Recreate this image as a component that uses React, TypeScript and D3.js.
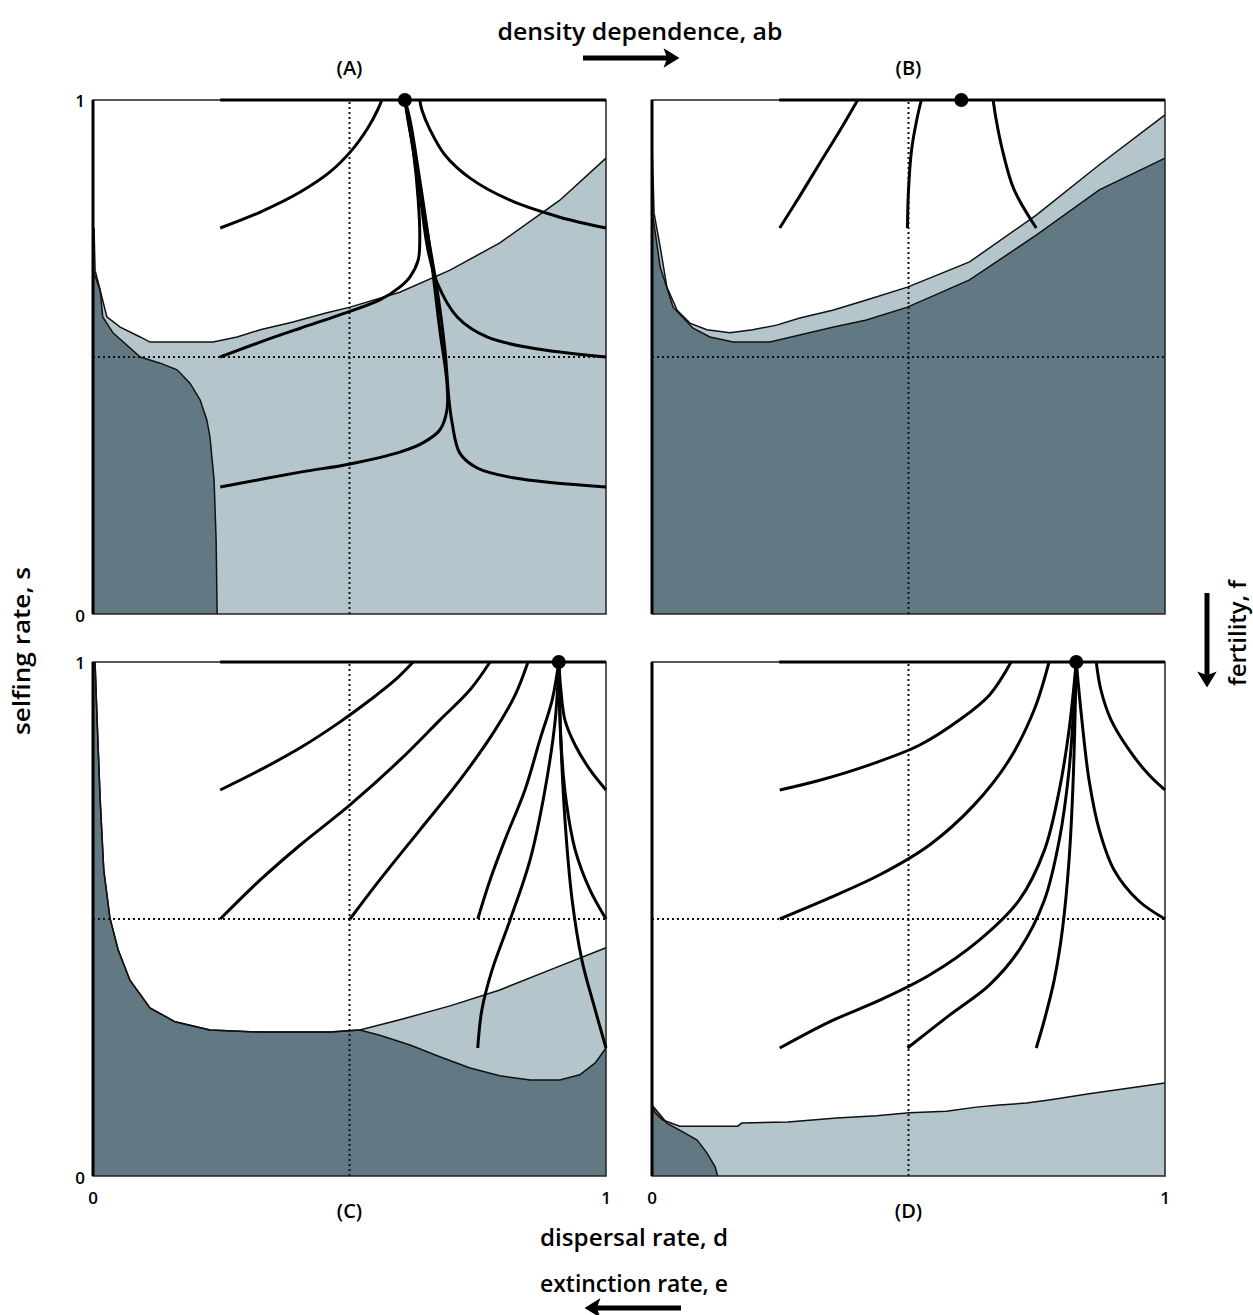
import * as d3 from "d3";

// panel geometry (px)
const PW = 513;
const PH = 514;

const DARK = "#627984";
const LIGHT = "#b4c6cb";

// region boundaries, [d, s]
const aWhite = [
  [0.002, 0.751], [0.004, 0.669], [0.014, 0.63], [0.027, 0.578], [0.053, 0.558],
  [0.092, 0.539], [0.111, 0.529], [0.234, 0.529], [0.281, 0.539], [0.326, 0.553],
  [0.39, 0.568], [0.456, 0.586], [0.501, 0.597], [0.598, 0.626], [0.696, 0.669],
  [0.793, 0.722], [0.91, 0.805], [1.0, 0.887],
];
const aDark = [
  [0, 0.669], [0.014, 0.63], [0.019, 0.578], [0.039, 0.547], [0.092, 0.5],
  [0.131, 0.488], [0.164, 0.475], [0.189, 0.449], [0.209, 0.416], [0.222, 0.377],
  [0.228, 0.344], [0.236, 0.261], [0.24, 0.144], [0.242, 0],
];

const bWhite = [
  [0, 0.918], [0.004, 0.78], [0.016, 0.714], [0.029, 0.636], [0.049, 0.591],
  [0.074, 0.566], [0.107, 0.553], [0.152, 0.547], [0.196, 0.553], [0.243, 0.562],
  [0.288, 0.576], [0.352, 0.591], [0.418, 0.611], [0.498, 0.636], [0.619, 0.685],
  [0.749, 0.776], [0.872, 0.874], [1.0, 0.971],
];
const bDark = [
  [0, 0.786], [0.016, 0.675], [0.041, 0.597], [0.08, 0.556], [0.113, 0.539],
  [0.158, 0.529], [0.23, 0.529], [0.288, 0.543], [0.352, 0.558], [0.418, 0.572],
  [0.498, 0.597], [0.619, 0.65], [0.749, 0.737], [0.872, 0.825], [1.0, 0.887],
];

const cWhite = [
  [0.004, 1.0], [0.008, 0.887], [0.014, 0.732], [0.021, 0.595], [0.033, 0.502],
  [0.049, 0.44], [0.072, 0.381], [0.111, 0.327], [0.16, 0.3], [0.228, 0.284],
  [0.326, 0.28], [0.462, 0.28], [0.52, 0.284], [0.598, 0.304], [0.696, 0.331],
  [0.793, 0.362], [0.891, 0.401], [1.0, 0.444],
];
const cDark = [
  [0.004, 1.0], [0.008, 0.887], [0.014, 0.732], [0.021, 0.595], [0.033, 0.502],
  [0.049, 0.44], [0.072, 0.381], [0.111, 0.327], [0.16, 0.3], [0.228, 0.284],
  [0.326, 0.28], [0.462, 0.28], [0.52, 0.284], [0.559, 0.274], [0.618, 0.255],
  [0.676, 0.232], [0.735, 0.21], [0.793, 0.195], [0.852, 0.187], [0.91, 0.187],
  [0.949, 0.197], [0.979, 0.22], [1.0, 0.249],
];

const dWhite = [
  [0, 0.138], [0.006, 0.123], [0.021, 0.109], [0.054, 0.097], [0.167, 0.097],
  [0.175, 0.103], [0.265, 0.105], [0.36, 0.113], [0.438, 0.117], [0.502, 0.123],
  [0.574, 0.126], [0.632, 0.134], [0.677, 0.138], [0.73, 0.142], [0.774, 0.148],
  [0.852, 0.16], [1.0, 0.181],
];
const dDark = [
  [0, 0.138], [0.029, 0.103], [0.06, 0.086], [0.088, 0.07], [0.107, 0.045],
  [0.123, 0.018], [0.128, 0],
];

// trajectories, [d, s]
const aTraj = [
  [[0.248, 0.751], [0.326, 0.782], [0.404, 0.821], [0.462, 0.86], [0.505, 0.903], [0.536, 0.946], [0.555, 0.981], [0.563, 1.0]],
  [[0.248, 0.5], [0.326, 0.529], [0.404, 0.556], [0.481, 0.582], [0.559, 0.611], [0.598, 0.636], [0.618, 0.656], [0.634, 0.689], [0.637, 0.728], [0.634, 0.805], [0.624, 0.903], [0.614, 0.961], [0.608, 1.0]],
  [[0.248, 0.247], [0.404, 0.276], [0.501, 0.292], [0.598, 0.315], [0.643, 0.333], [0.676, 0.358], [0.69, 0.397], [0.69, 0.449], [0.676, 0.553], [0.657, 0.708], [0.634, 0.864], [0.618, 0.961], [0.608, 1.0]],
  [[1.0, 0.751], [0.91, 0.772], [0.813, 0.805], [0.735, 0.848], [0.686, 0.893], [0.657, 0.942], [0.641, 0.981], [0.637, 1.0]],
  [[1.0, 0.5], [0.852, 0.518], [0.768, 0.539], [0.71, 0.578], [0.671, 0.644], [0.653, 0.708], [0.634, 0.844], [0.618, 0.942], [0.608, 1.0]],
  [[1.0, 0.247], [0.819, 0.265], [0.749, 0.284], [0.715, 0.313], [0.7, 0.372], [0.694, 0.416], [0.686, 0.514], [0.671, 0.63], [0.651, 0.747], [0.628, 0.883], [0.612, 0.981], [0.608, 1.0]],
];
const bTraj = [
  [[0.249, 0.751], [0.288, 0.813], [0.327, 0.877], [0.366, 0.94], [0.401, 1.0]],
  [[0.498, 0.751], [0.5, 0.825], [0.506, 0.903], [0.516, 0.961], [0.525, 1.0]],
  [[0.749, 0.751], [0.706, 0.825], [0.683, 0.903], [0.671, 0.961], [0.665, 1.0]],
];
const cTraj = [
  [[0.248, 0.751], [0.326, 0.79], [0.404, 0.833], [0.481, 0.883], [0.54, 0.926], [0.589, 0.965], [0.624, 1.0]],
  [[0.248, 0.5], [0.326, 0.576], [0.404, 0.644], [0.501, 0.722], [0.598, 0.809], [0.676, 0.887], [0.735, 0.946], [0.774, 1.0]],
  [[0.501, 0.5], [0.559, 0.576], [0.637, 0.673], [0.715, 0.77], [0.784, 0.868], [0.823, 0.936], [0.848, 1.0]],
  [[0.75, 0.5], [0.774, 0.576], [0.803, 0.654], [0.842, 0.751], [0.871, 0.848], [0.895, 0.926], [0.908, 1.0]],
  [[1.0, 0.751], [0.969, 0.79], [0.94, 0.838], [0.92, 0.887], [0.912, 0.946], [0.908, 1.0]],
  [[1.0, 0.5], [0.969, 0.556], [0.94, 0.634], [0.922, 0.732], [0.912, 0.848], [0.908, 1.0]],
  [[0.75, 0.249], [0.758, 0.323], [0.778, 0.401], [0.813, 0.498], [0.852, 0.615], [0.881, 0.751], [0.901, 0.887], [0.908, 1.0]],
  [[1.0, 0.249], [0.979, 0.323], [0.953, 0.42], [0.934, 0.537], [0.92, 0.693], [0.912, 0.848], [0.908, 1.0]],
];
const dTraj = [
  [[0.249, 0.751], [0.327, 0.77], [0.424, 0.8], [0.521, 0.838], [0.599, 0.887], [0.658, 0.936], [0.7, 1.0]],
  [[0.249, 0.5], [0.346, 0.541], [0.444, 0.586], [0.541, 0.644], [0.628, 0.722], [0.696, 0.809], [0.745, 0.907], [0.774, 1.0]],
  [[0.249, 0.249], [0.346, 0.3], [0.444, 0.342], [0.541, 0.391], [0.638, 0.459], [0.716, 0.537], [0.765, 0.634], [0.794, 0.751], [0.813, 0.868], [0.827, 1.0]],
  [[0.498, 0.249], [0.58, 0.313], [0.658, 0.372], [0.716, 0.44], [0.765, 0.537], [0.794, 0.654], [0.813, 0.79], [0.827, 1.0]],
  [[0.749, 0.249], [0.765, 0.304], [0.784, 0.381], [0.8, 0.479], [0.813, 0.615], [0.821, 0.77], [0.827, 1.0]],
  [[1.0, 0.751], [0.969, 0.78], [0.93, 0.829], [0.895, 0.887], [0.875, 0.946], [0.866, 1.0]],
  [[1.0, 0.5], [0.949, 0.535], [0.901, 0.595], [0.872, 0.673], [0.852, 0.77], [0.838, 0.887], [0.827, 1.0]],
];

const panels = [
  { id: "(A)", x: 93, y: 100, white: aWhite, dark: aDark, darkPoly: [[0, 0], ...aDark], traj: aTraj, dot: 0.608 },
  { id: "(B)", x: 652, y: 100, white: bWhite, dark: bDark, darkPoly: [[0, 0], ...bDark, [1, 0]], traj: bTraj, dot: 0.603 },
  { id: "(C)", x: 93, y: 662, white: cWhite, dark: cDark, darkPoly: [[0, 0], [0, 1], ...cDark, [1, 0]], traj: cTraj, dot: 0.908 },
  { id: "(D)", x: 652, y: 662, white: dWhite, dark: dDark, darkPoly: [[0, 0], ...dDark], traj: dTraj, dot: 0.827 },
];

const FONT = "'Open Sans', sans-serif";

function Panel({ p }) {
  const x = d3.scaleLinear().domain([0, 1]).range([p.x, p.x + PW]);
  const y = d3.scaleLinear().domain([0, 1]).range([p.y + PH, p.y]);
  const lin = d3.line().x((d) => x(d[0])).y((d) => y(d[1]));
  const smooth = d3.line().x((d) => x(d[0])).y((d) => y(d[1])).curve(d3.curveCatmullRom);
  const lightPoly = [[0, 0], [0, p.white[0][1]], ...p.white, [1, 0]];
  const bottom = p.y > 500;
  return (
    <g>
      <path d={lin(lightPoly) + "Z"} fill={LIGHT} />
      <path d={lin(p.darkPoly) + "Z"} fill={DARK} />
      <path d={lin(p.white)} fill="none" stroke="#111" strokeWidth={1.5} />
      <path d={lin(p.dark)} fill="none" stroke="#111" strokeWidth={1.5} />
      <line x1={x(0.5)} x2={x(0.5)} y1={y(0)} y2={y(1)} stroke="#111" strokeWidth={2} strokeDasharray="2,3" />
      <line x1={x(0)} x2={x(1)} y1={y(0.5)} y2={y(0.5)} stroke="#111" strokeWidth={2} strokeDasharray="2,3" />
      <rect x={x(0)} y={y(1)} width={PW} height={PH} fill="none" stroke="#222" strokeWidth={1.5} />
      <line x1={x(0)} x2={x(0)} y1={y(0)} y2={y(1)} stroke="#000" strokeWidth={3} />
      <line x1={x(0.248)} x2={x(1)} y1={y(1)} y2={y(1)} stroke="#000" strokeWidth={3} />
      {p.traj.map((t, i) => (
        <path key={i} d={smooth(t)} fill="none" stroke="#000" strokeWidth={3} />
      ))}
      <circle cx={x(p.dot)} cy={y(1)} r={7} fill="#000" />
      <text x={x(0.5)} y={bottom ? 1218 : 75} textAnchor="middle" fontSize={20} fontWeight={600} fontFamily={FONT}>
        {p.id}
      </text>
      {p.x < 300 && (
        <g fontSize={17} fontWeight={600} fontFamily={FONT} textAnchor="end">
          <text x={p.x - 8} y={y(1) + 7}>1</text>
          <text x={p.x - 8} y={y(0) + 8}>0</text>
        </g>
      )}
      {bottom && (
        <g fontSize={17} fontWeight={600} fontFamily={FONT} textAnchor="middle">
          <text x={x(0)} y={1204}>0</text>
          <text x={x(1)} y={1204}>1</text>
        </g>
      )}
    </g>
  );
}

export default function App() {
  return (
    <svg width={1253} height={1315} style={{ position: "absolute", left: 0, top: 0, background: "#fff" }}>
      {panels.map((p) => (
        <Panel key={p.id} p={p} />
      ))}
      <g fontFamily={FONT} fontWeight={600} fontSize={24} fill="#000">
        <text x={640} y={40} textAnchor="middle" textLength={285} lengthAdjust="spacingAndGlyphs">density dependence, ab</text>
        <text x={634} y={1246} textAnchor="middle" textLength={188} lengthAdjust="spacingAndGlyphs">dispersal rate, d</text>
        <text x={634} y={1292} textAnchor="middle" textLength={188} lengthAdjust="spacingAndGlyphs">extinction rate, e</text>
        <text transform="translate(30,651) rotate(-90)" textAnchor="middle" textLength={168} lengthAdjust="spacingAndGlyphs">selfing rate, s</text>
        <text transform="translate(1246,633) rotate(-90)" textAnchor="middle" textLength={106} lengthAdjust="spacingAndGlyphs">fertility, f</text>
      </g>
      {/* arrows */}
      <line x1={583} x2={668} y1={58} y2={58} stroke="#000" strokeWidth={5} />
      <path d="M665,50 L678,58 L665,66 L668,58 Z" fill="#000" stroke="#000" strokeWidth={1.5} />
      <line x1={596} x2={681} y1={1308} y2={1308} stroke="#000" strokeWidth={5} />
      <path d="M599,1300 L586,1308 L599,1316 L596,1308 Z" fill="#000" stroke="#000" strokeWidth={1.5} />
      <line x1={1207} x2={1207} y1={593} y2={676} stroke="#000" strokeWidth={5} />
      <path d="M1199,673 L1207,686 L1215,673 L1207,676 Z" fill="#000" stroke="#000" strokeWidth={1.5} />
    </svg>
  );
}
